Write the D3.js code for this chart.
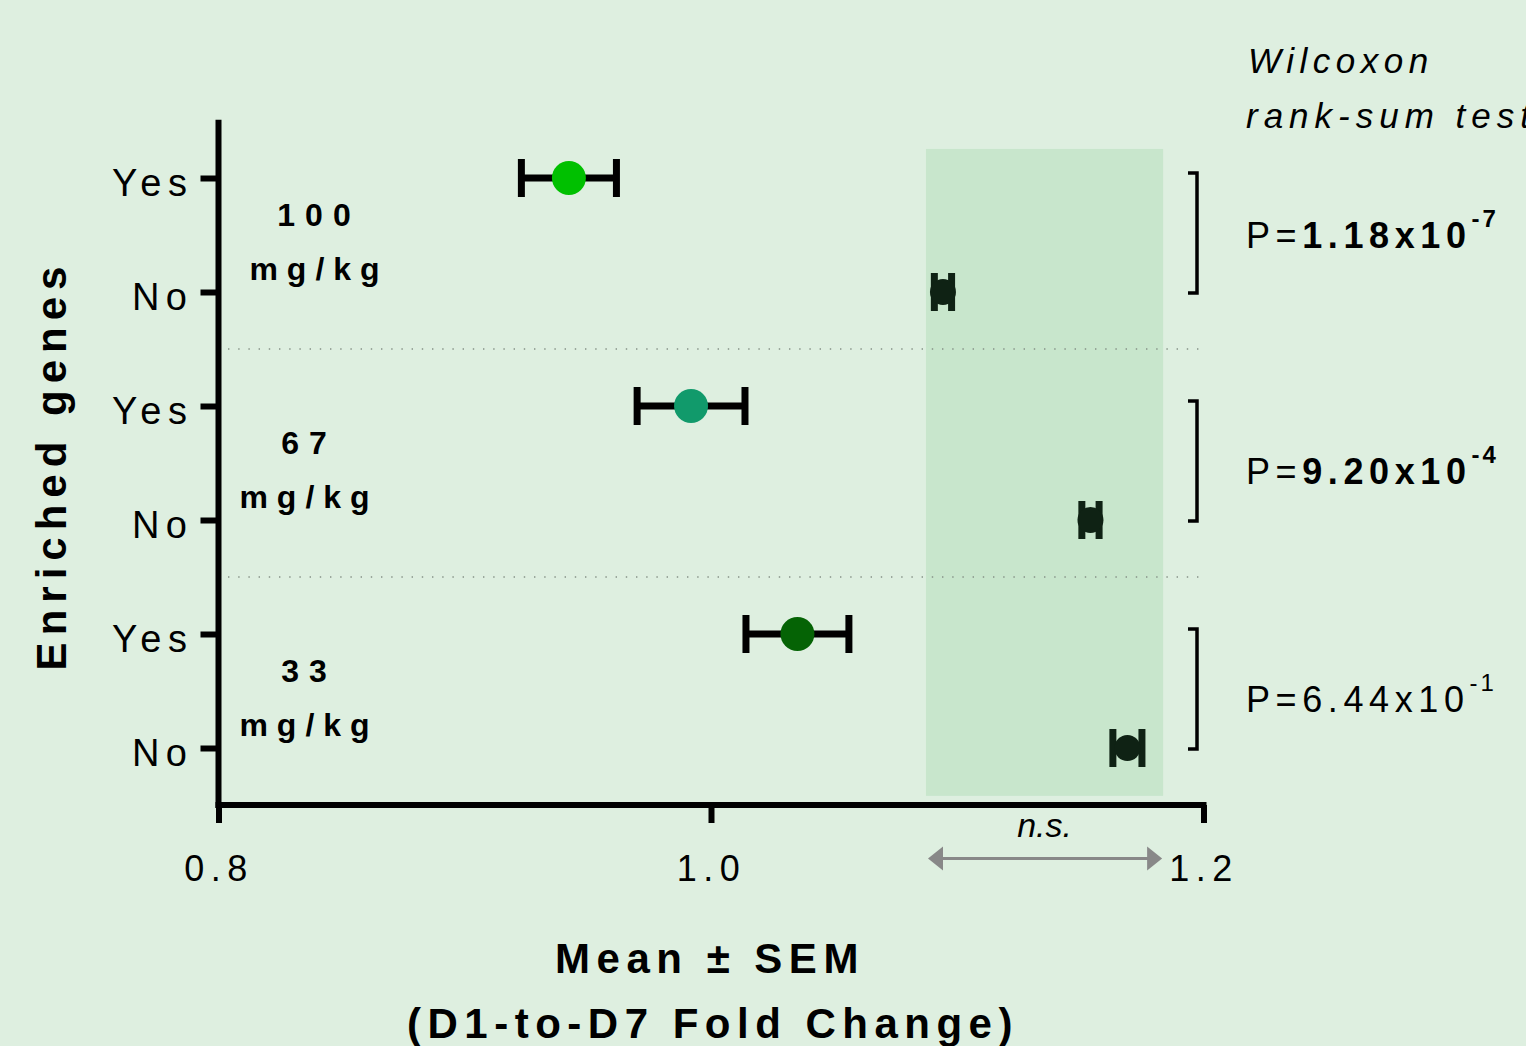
<!DOCTYPE html>
<html><head><meta charset="utf-8">
<script src="https://cdn.jsdelivr.net/npm/d3@7"></script>
<style>
html,body{margin:0;padding:0;background:#deefe0;}
svg{display:block;}
text{font-family:"Liberation Sans",Arial,sans-serif;fill:#000;}
</style></head>
<body><svg id="chart" width="1526" height="1046"></svg>
<script>
// ---- data ----
const doses = ["100", "67", "33"];
const enriched = ["Yes", "No"];
const categories = ["100|Yes", "100|No", "67|Yes", "67|No", "33|Yes", "33|No"];
const means = [0.9423, 1.0942, 0.9919, 1.1541, 1.0351, 1.1691];
const sems  = [0.0193, 0.0035, 0.0219, 0.0035, 0.0209, 0.0059];
const pMantissa = ["1.18", "9.20", "6.44"];
const pExponent = ["-7", "-4", "-1"];
const pSignificant = [true, true, false];
const xTicks = [0.8, 1.0, 1.2];
const xTickLabels = ["0.8", "1.0", "1.2"];
const nsRange = [1.0873, 1.1836];

const colorsYes = {"100": "#00c000", "67": "#119a6b", "33": "#056305"};
const colorNo = "#0f2214";

const svg = d3.select("#chart");
svg.append("rect").attr("width", 1526).attr("height", 1046).attr("fill", "#deefe0");

const x = d3.scaleLinear().domain([0.8, 1.2]).range([218.5, 1203.5]);
const y = d3.scalePoint().domain(categories).range([178, 748]);
const step = y.step();

// shaded n.s. region
svg.append("rect")
  .attr("x", x(nsRange[0])).attr("width", x(nsRange[1]) - x(nsRange[0]))
  .attr("y", y(categories[0]) - step * 0.255)
  .attr("height", (y(categories[5]) + step * 0.42) - (y(categories[0]) - step * 0.255))
  .attr("fill", "#c8e6cc");

// dotted separators
[1.5, 3.5].forEach(k => {
  const yy = y(categories[0]) + step * k;
  svg.append("line").attr("x1", 228).attr("x2", 1200).attr("y1", yy).attr("y2", yy)
    .attr("stroke", "#859186").attr("stroke-width", 1.4).attr("stroke-dasharray", "1.4 8.8");
});

// axes
const yTop = y(categories[0]) - step * 0.51;
const yBot = y(categories[5]) + step * 0.5;
svg.append("line").attr("x1", 218.5).attr("x2", 218.5).attr("y1", yTop).attr("y2", yBot + 3)
  .attr("stroke", "#000").attr("stroke-width", 6);
svg.append("line").attr("x1", 215.5).attr("x2", x(1.2) + 3).attr("y1", yBot).attr("y2", yBot)
  .attr("stroke", "#000").attr("stroke-width", 6);

const yAxis = d3.axisLeft(y).tickSize(18).tickSizeOuter(0).tickFormat(d => d.split("|")[1]);
const gy = svg.append("g").attr("transform", "translate(218.5,0)").call(yAxis);
gy.select(".domain").remove();
gy.selectAll(".tick line").attr("stroke", "#000").attr("stroke-width", 6);
gy.selectAll(".tick text").attr("font-size", 38).attr("letter-spacing", 6.5)
  .attr("x", -25).attr("dy", "0.46em").attr("font-family", "Liberation Sans, Arial, sans-serif");

const xAxis = d3.axisBottom(x).tickValues(xTicks).tickSize(18).tickSizeOuter(0)
  .tickFormat((d, i) => xTickLabels[i]);
const gx = svg.append("g").attr("transform", `translate(0,${yBot})`).call(xAxis);
gx.select(".domain").remove();
gx.selectAll(".tick line").attr("stroke", "#000").attr("stroke-width", 6);
gx.selectAll(".tick text").attr("font-size", 36).attr("letter-spacing", 6.5)
  .attr("y", 76).attr("dy", 0).attr("dx", 0).attr("font-family", "Liberation Sans, Arial, sans-serif");

// error bars and points
const capH = 38;
categories.forEach((c, i) => {
  const [dose, enr] = c.split("|");
  const yy = y(c);
  const lo = x(means[i] - sems[i]), hi = x(means[i] + sems[i]);
  const col = enr === "Yes" ? colorsYes[dose] : colorNo;
  const barCol = enr === "Yes" ? "#000" : colorNo;
  const g = svg.append("g");
  g.append("line").attr("x1", lo).attr("x2", hi).attr("y1", yy).attr("y2", yy)
    .attr("stroke", barCol).attr("stroke-width", 7);
  [lo, hi].forEach(xx => g.append("line").attr("x1", xx).attr("x2", xx)
    .attr("y1", yy - capH / 2).attr("y2", yy + capH / 2)
    .attr("stroke", barCol).attr("stroke-width", 7));
  g.append("circle").attr("cx", x(means[i])).attr("cy", yy)
    .attr("r", enr === "Yes" ? 17 : 13).attr("fill", col);
});

// dose labels
doses.forEach((d, k) => {
  const mid = (y(d + "|Yes") + y(d + "|No")) / 2;
  const cx = d === "100" ? 319 : 309;
  svg.append("text").attr("x", cx).attr("y", mid - 9).attr("text-anchor", "middle")
    .attr("font-size", 32).attr("font-weight", "bold").attr("letter-spacing", 10).text(d);
  svg.append("text").attr("x", cx).attr("y", mid + 45).attr("text-anchor", "middle")
    .attr("font-size", 32).attr("font-weight", "bold").attr("letter-spacing", 9).text("mg/kg");
});

// brackets and p-values
doses.forEach((d, k) => {
  const y1 = y(d + "|Yes") - 5, y2 = y(d + "|No") + 1;
  svg.append("path").attr("d", `M1188,${y1} H1197 V${y2} H1188`)
    .attr("fill", "none").attr("stroke", "#000").attr("stroke-width", 3.5);
  const t = svg.append("text").attr("x", 1246).attr("y", y(d + "|No") - (k === 0 ? 44 : 36))
    .attr("font-size", 36).attr("letter-spacing", 5.6);
  t.append("tspan").text("P=");
  t.append("tspan").attr("font-weight", pSignificant[k] ? "bold" : "normal").text(pMantissa[k] + "x10");
  t.append("tspan").attr("font-size", 24).attr("dy", -21)
    .attr("font-weight", pSignificant[k] ? "bold" : "normal").attr("letter-spacing", 3).text(pExponent[k]);
});

// test title
svg.append("text").attr("x", 1248).attr("y", 73).attr("font-size", 35).attr("font-style", "italic")
  .attr("letter-spacing", 5.5).text("Wilcoxon");
svg.append("text").attr("x", 1246).attr("y", 128).attr("font-size", 35).attr("font-style", "italic")
  .attr("letter-spacing", 6).text("rank-sum test");

// n.s. arrow
const ay = 858.5;
svg.append("line").attr("x1", x(nsRange[0]) + 12).attr("x2", x(nsRange[1]) - 12)
  .attr("y1", ay).attr("y2", ay).attr("stroke", "#888").attr("stroke-width", 3);
svg.append("path").attr("d", `M${x(nsRange[0]) + 2},${ay} l15,-12 v24 z`).attr("fill", "#888");
svg.append("path").attr("d", `M${x(nsRange[1]) - 1},${ay} l-15,-12 v24 z`).attr("fill", "#888");
svg.append("text").attr("x", (x(nsRange[0]) + x(nsRange[1])) / 2).attr("y", 837)
  .attr("text-anchor", "middle").attr("font-size", 34).attr("font-style", "italic")
  .attr("font-family", "Open Sans, sans-serif").text("n.s.");

// axis titles
svg.append("text").attr("x", 710).attr("y", 973).attr("text-anchor", "middle")
  .attr("font-size", 42).attr("font-weight", "bold").attr("letter-spacing", 6.5).text("Mean ± SEM");
svg.append("text").attr("x", 713).attr("y", 1038).attr("text-anchor", "middle")
  .attr("font-size", 42).attr("font-weight", "bold").attr("letter-spacing", 6.5).text("(D1-to-D7 Fold Change)");
svg.append("text").attr("transform", "translate(66,465) rotate(-90)").attr("text-anchor", "middle")
  .attr("font-size", 42).attr("font-weight", "bold").attr("letter-spacing", 7).text("Enriched genes");
</script></body></html>
